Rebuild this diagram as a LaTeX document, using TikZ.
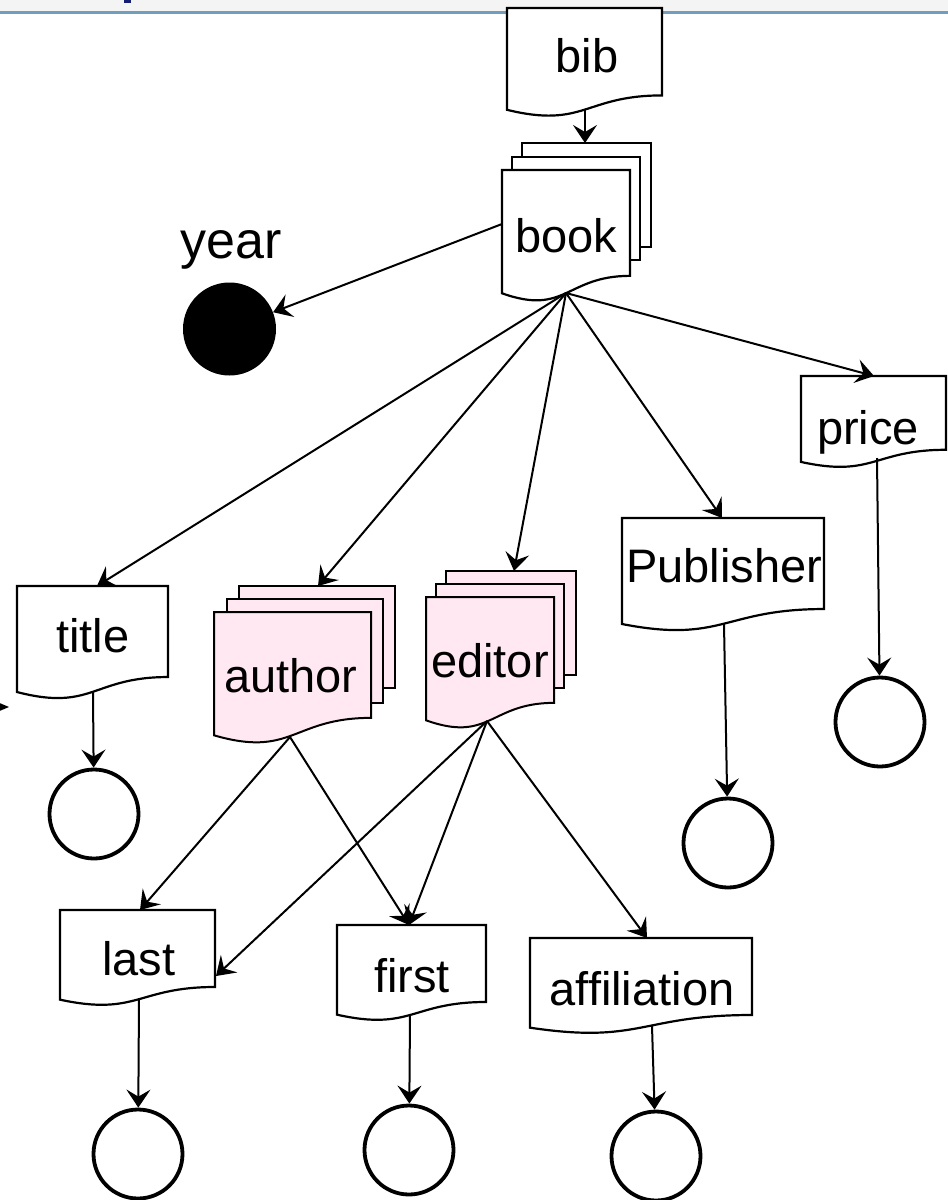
\documentclass[tikz,border=0pt]{standalone}
\usepackage{fontspec}
\setmainfont{Liberation Sans}
\usetikzlibrary{arrows.meta}
\definecolor{pinkfill}{RGB}{255,232,242}
\definecolor{bandline}{RGB}{112,158,188}
\definecolor{bandgray}{RGB}{244,244,244}
\definecolor{navytext}{RGB}{20,30,110}
% document shape: x, y (top-left), w, h, style
\newcommand\docshape[5]{\draw[#5] (#1,#2) -- ({#1+#3},#2) -- ({#1+#3},{#2+0.802*#4}) .. controls ({#1+0.5*#3},{#2+0.802*#4}) and ({#1+0.5*#3},{#2+1.1075*#4}) .. (#1,{#2+0.934*#4}) -- cycle;}
\begin{document}
\begin{tikzpicture}[x=1pt,y=-1pt,
  conn/.style={line width=2pt, -{Stealth[length=18pt,width=24pt,inset=7pt]}},
  doc/.style={draw, line width=2.2pt, fill=white},
  pdoc/.style={draw, line width=2pt, fill=pinkfill},
  lbl/.style={font=\fontsize{47}{56}\selectfont, anchor=base, inner sep=0pt},
  ring/.style={circle, draw, line width=3.8pt, fill=white, minimum size=89pt, inner sep=0pt},
]
\useasboundingbox (0,0) rectangle (948,1200);
% top band
\fill[bandgray] (0,0) rectangle (948,11);
\draw[bandline, line width=3pt] (0,12.5) -- (948,12.5);
\fill[navytext] (124,0) rectangle (131,2.5);
% stray arrow tip at left edge
\fill (-10,699) -- (9,707) -- (-10,715) -- (-4,707) -- cycle;

% connector end points
\coordinate (bibS) at (585,110);
\coordinate (bookN) at (585,143);
\coordinate (bookS) at (566,293);
\coordinate (bookW) at (502,224);
\coordinate (titleN) at (97,586);
\coordinate (authorN) at (318,586);
\coordinate (editorN) at (514,571);
\coordinate (pubN) at (722,518);
\coordinate (priceN) at (874,376);
\coordinate (titleS) at (93,692);
\coordinate (pubS) at (724,624);
\coordinate (priceS) at (877,458);
\coordinate (authorS) at (290,737);
\coordinate (editorS) at (487,721);
\coordinate (lastN) at (140,910);
\coordinate (lastE) at (216,976);
\coordinate (firstN) at (409,925);
\coordinate (affN) at (647,938);
\coordinate (lastS) at (139,999);
\coordinate (firstS) at (410,1014);
\coordinate (affS) at (652,1026);

% shapes
\docshape{507}{8}{155}{109}{doc}
% book
\draw[doc] (522,143) rectangle (651,247);
\draw[doc] (512,157) rectangle (640,260);
\docshape{502}{170}{128}{132}{doc}
% author
\draw[pdoc] (239,586) rectangle (395,688);
\draw[pdoc] (227,599) rectangle (383,703);
\docshape{214}{612}{157}{132}{pdoc}
% editor
\draw[pdoc] (446,571) rectangle (576,675);
\draw[pdoc] (436,584) rectangle (564,688);
\docshape{426}{597}{128}{132}{pdoc}
% simple documents
\docshape{17}{586}{151}{113.5}{doc}
\docshape{622}{518}{202}{113.5}{doc}
\docshape{801}{376}{145}{92}{doc}
\docshape{60}{910}{155}{96}{doc}
\docshape{337}{925}{149}{96}{doc}
\docshape{530}{938}{222}{96}{doc}

% labels
\node[lbl] (bib) at (587,72) {bib};
\node[lbl] (book) at (566,252) {book};
\node[lbl, font=\fontsize{52}{60}\selectfont] (yearlbl) at (231,258) {year};
\node[lbl] (price) at (868,444) {price};
\node[lbl] (publisher) at (724,582) {Publisher};
\node[lbl] (title) at (93,652) {title};
\node[lbl] (author) at (291,692) {author};
\node[lbl] (editor) at (490,677) {editor};
\node[lbl] (last) at (139,975) {last};
\node[lbl] (first) at (412,992) {first};
\node[lbl] (affil) at (642,1005) {affiliation};

% circles
\node[circle, fill=black, minimum size=93pt, inner sep=0pt] (year) at (229.5,329) {};
\node[ring] (titleC) at (94,814) {};
\node[ring] (pubC) at (728,843) {};
\node[ring] (priceC) at (880,722) {};
\node[ring] (lastC) at (138,1154) {};
\node[ring] (firstC) at (409,1150) {};
\node[ring] (affC) at (656,1156) {};

% connectors
\draw[conn] (bibS) -- (bookN);
\draw[conn] (bookW) -- (year);
\draw[conn] (bookS) -- (titleN);
\draw[conn] (bookS) -- (authorN);
\draw[conn] (bookS) -- (editorN);
\draw[conn] (bookS) -- (pubN);
\draw[conn] (bookS) -- (priceN);
\draw[conn] (titleS) -- (titleC);
\draw[conn] (pubS) -- (pubC);
\draw[conn] (priceS) -- (priceC);
\draw[conn] (authorS) -- (lastN);
\draw[conn] (authorS) -- (firstN);
\draw[conn] (editorS) -- (lastE);
\draw[conn] (editorS) -- (firstN);
\draw[conn] (editorS) -- (affN);
\draw[conn] (lastS) -- (lastC);
\draw[conn] (firstS) -- (firstC);
\draw[conn] (affS) -- (affC);
\end{tikzpicture}
\end{document}
